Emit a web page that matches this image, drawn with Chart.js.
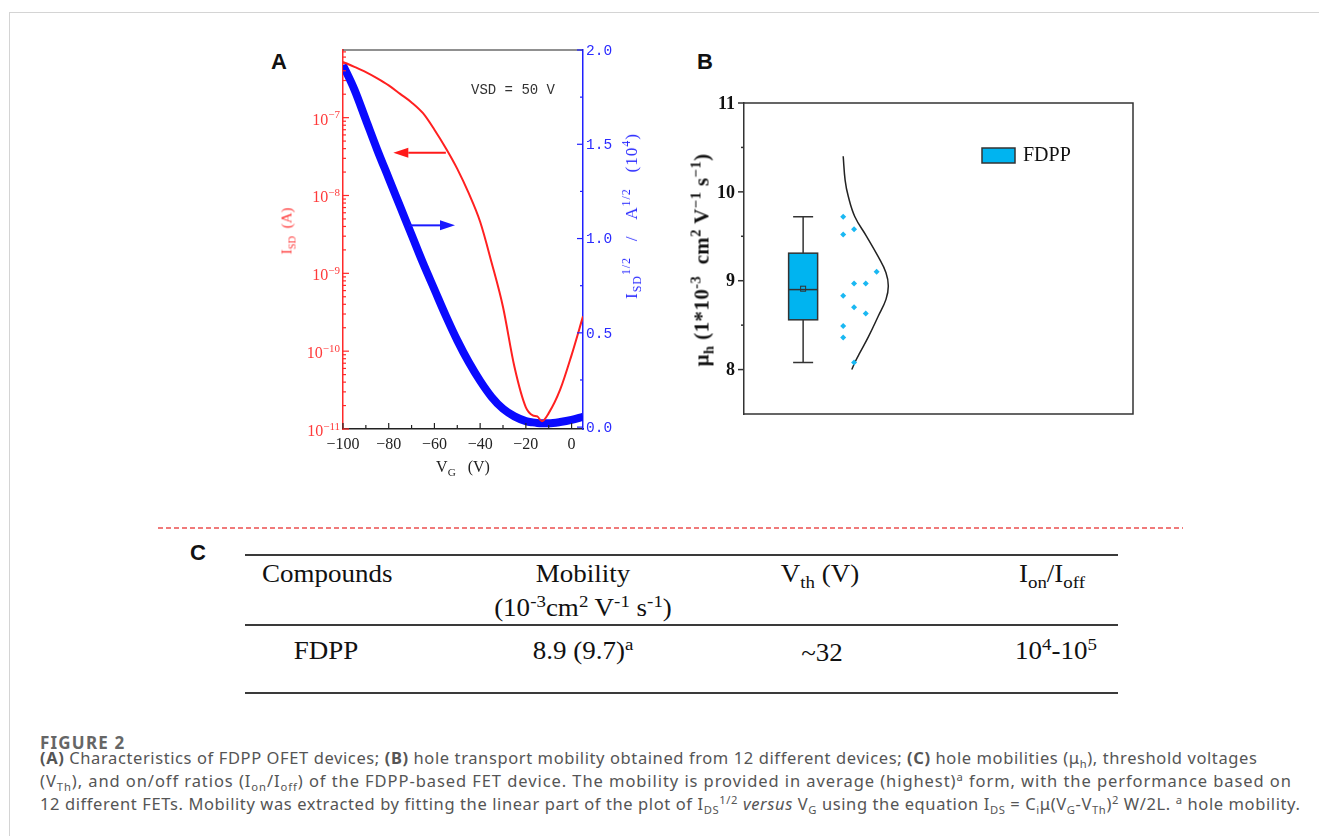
<!DOCTYPE html>
<html lang="en">
<head>
<meta charset="UTF-8">
<title>Figure 2</title>
<script src="https://cdn.jsdelivr.net/npm/chart.js"></script>
<style>
* { margin: 0; padding: 0; box-sizing: border-box; }
body {
    width: 1319px; height: 836px; position: relative; overflow: hidden;
    background: #fff; font-family: 'Liberation Serif', serif; color: #111;
}
.frame {
    position: absolute; left: 9px; top: 12px; width: 1320px; height: 830px;
    border-top: 1px solid #d4d4d4; border-left: 1px solid #d4d4d4;
}
.panel-label {
    position: absolute; font-family: 'Liberation Sans', Arial, sans-serif;
    font-weight: bold; font-size: 22px; line-height: 22px; color: #111;
}
.wrap { position: absolute; }
#wrapA { left: 263px; top: 38px; width: 380px; height: 450px; }
#wrapB { left: 704px; top: 93px; width: 440px; height: 331px; }
.txt { position: absolute; white-space: nowrap; }
.rot { position: absolute; white-space: nowrap; transform: translate(-50%, -50%) rotate(-90deg); }
.ctr { transform: translateX(-50%); }
sub, sup { line-height: 0; font-size: 70%; }

/* table C */
.hline { position: absolute; left: 245px; width: 873px; height: 2px; background: #3a3a3a; }
.cell {
    position: absolute; white-space: nowrap; font-size: 27px; line-height: 27px; color: #111;
    transform: scaleY(0.9);
}
.cell.ctr { transform: translateX(-50%) scaleY(0.9); }
.dash {
    position: absolute; left: 158px; top: 527px; width: 1025px; height: 1.5px;
    background: repeating-linear-gradient(to right, #f07a7a 0 5px, transparent 5px 8px);
}

/* caption */
.cap-title {
    position: absolute; left: 40px; top: 731px; font-family: 'Noto Sans', sans-serif;
    font-size: 17px; font-weight: bold; color: #666; letter-spacing: 1.2px;
}
.caption {
    position: absolute; left: 40px; top: 746px; font-family: 'Noto Sans', sans-serif;
    font-size: 16.5px; line-height: 23px; color: #555; white-space: nowrap; letter-spacing: 0.6px;
}
.caption .l2 { letter-spacing: 0.93px; }
.caption sub, .caption sup { font-size: 68%; }
</style>
</head>
<body>
<div class="frame"></div>

<div class="panel-label" style="left:271px; top:51px;">A</div>
<div class="panel-label" style="left:697px; top:51px;">B</div>
<div class="panel-label" style="left:190px; top:542px;">C</div>

<!-- Panel A -->
<div class="wrap" id="wrapA"><canvas id="chartA"></canvas></div>
<div class="txt" style="left:471px; top:82px; font-family:'Liberation Mono', monospace; font-size:14px; color:#333;">VSD = 50 V</div>
<div class="rot" style="left:287px; top:231px; font-size:15px; color:#ff3a3a;">I<sub>SD</sub>&nbsp;&nbsp;(A)</div>
<div class="rot" style="left:632px; top:216px; font-size:17px; letter-spacing:1px; color:#2a2aff;">I<sub>SD</sub><sup>1/2</sup>&nbsp;&nbsp;&nbsp;/&nbsp;&nbsp;&nbsp;A<sup>1/2</sup>&nbsp;&nbsp;&nbsp;(10<sup>4</sup>)</div>
<div class="txt ctr" style="left:463px; top:458px; font-size:16px; color:#222;">V<sub>G</sub>&nbsp;&nbsp;&nbsp;(V)</div>

<!-- Panel B -->
<div class="wrap" id="wrapB"><canvas id="chartB"></canvas></div>
<div class="rot" style="left:702px; top:260px; font-size:21px; letter-spacing:0.4px; font-weight:bold; color:#111;">μ<sub>h</sub> (1*10<sup>-3</sup>&nbsp; cm<sup>2</sup> V<sup>−1</sup> s<sup>−1</sup>)</div>

<!-- Panel C -->
<div class="dash"></div>
<div class="hline" style="top:554px;"></div>
<div class="hline" style="top:624px;"></div>
<div class="hline" style="top:692px;"></div>
<div class="cell" style="left:262px; top:561px;">Compounds</div>
<div class="cell ctr" style="left:583px; top:561px;">Mobility</div>
<div class="cell ctr" style="left:583px; top:595px;">(10<sup>-3</sup>cm<sup>2</sup> V<sup>-1</sup> s<sup>-1</sup>)</div>
<div class="cell ctr" style="left:820px; top:561px;">V<sub>th</sub> (V)</div>
<div class="cell ctr" style="left:1052px; top:561px;">I<sub>on</sub>/I<sub>off</sub></div>
<div class="cell ctr" style="left:326px; top:638px;">FDPP</div>
<div class="cell ctr" style="left:583px; top:638px;">8.9 (9.7)<sup>a</sup></div>
<div class="cell ctr" style="left:822px; top:640px;">~32</div>
<div class="cell ctr" style="left:1056px; top:638px;">10<sup>4</sup>-10<sup>5</sup></div>

<!-- Caption -->
<div class="cap-title">FIGURE 2</div>
<div class="caption"><b>(A)</b> Characteristics of FDPP OFET devices; <b>(B)</b> hole transport mobility obtained from 12 different devices; <b>(C)</b> hole mobilities (μ<sub>h</sub>), threshold voltages<br><span class="l2">(V<sub>Th</sub>), and on/off ratios (I<sub>on</sub>/I<sub>off</sub>) of the FDPP-based FET device. The mobility is provided in average (highest)<sup>a</sup> form, with the performance based on</span><br>12 different FETs. Mobility was extracted by fitting the linear part of the plot of I<sub>DS</sub><sup>1/2</sup> <i>versus</i> V<sub>G</sub> using the equation I<sub>DS</sub> = C<sub>i</sub>μ(V<sub>G</sub>-V<sub>Th</sub>)<sup>2</sup> W/2L. <sup>a</sup> hole mobility.</div>

<script>
// ---- Panel A data: transfer curve ----
const vg = [-100, -95, -90, -85, -80, -75, -70, -65, -60, -55, -50, -45, -40, -35, -30, -25, -20, -17, -15, -13, -10, -5, 0, 5];
const isd = [5.2e-7, 4.5e-7, 3.85e-7, 3.2e-7, 2.6e-7, 2.02e-7, 1.57e-7, 1.14e-7, 7.0e-8, 4.05e-8, 2.2e-8, 1.07e-8,
    4.6e-9, 1.38e-9, 3.7e-10, 6.3e-11, 1.9e-11, 1.5e-11, 1.45e-11, 1.26e-11, 1.6e-11, 3.2e-11, 8.9e-11, 2.8e-10];
const sqrtIsd = [1.92, 1.79, 1.63, 1.47, 1.32, 1.17, 1.02, 0.87, 0.73, 0.59, 0.46, 0.345,
    0.245, 0.16, 0.097, 0.057, 0.032, 0.025, 0.022, 0.021, 0.021, 0.027, 0.038, 0.055];
const xTicks = [-100, -80, -60, -40, -20, 0];
const xMinor = [-90, -70, -50, -30, -10];
const logTicks = [1e-11, 1e-10, 1e-9, 1e-8, 1e-7];
const rightTicks = [0, 0.5, 1.0, 1.5, 2.0];
const rightMinor = [0.25, 0.75, 1.25, 1.75];
const redArrowX = [-55, -78], redArrowY = 3.55e-8;
const blueArrowX = [-71, -51], blueArrowY = 1.07;

// ---- Panel B data: mobility of 12 devices ----
const mobility = [9.72, 9.52, 9.58, 9.10, 8.97, 8.97, 8.83, 8.70, 8.63, 8.49, 8.36, 8.08];
const jitterX = [2.55, 2.55, 2.83, 3.41, 2.83, 3.13, 2.55, 2.83, 3.13, 2.55, 2.55, 2.83];
const boxX = 1.52;
const boxStats = [8.08, 8.56, 8.90, 9.31, 9.72]; // min, q1, median, q3, max
const boxMean = 8.91;
const curveX = [2.55, 2.60, 2.68, 2.85, 3.15, 3.45, 3.65, 3.71, 3.65, 3.45, 3.20, 2.98, 2.85, 2.77];
const curveY = [10.40, 10.13, 9.95, 9.72, 9.50, 9.27, 9.09, 8.94, 8.79, 8.60, 8.37, 8.19, 8.08, 8.00];
const bTicks = [8, 9, 10, 11];
const bMinor = [8.5, 9.5, 10.5];

Chart.defaults.font.family = "'Liberation Serif', serif";
Chart.defaults.animation = false;

const setTicks = arr => s => { s.ticks = arr.map(v => ({ value: v })); };

function arrow(ctx, x0, x1, y, color) {
    const dir = Math.sign(x1 - x0), head = 15;
    ctx.save();
    ctx.strokeStyle = color; ctx.fillStyle = color; ctx.lineWidth = 2;
    ctx.beginPath(); ctx.moveTo(x0, y); ctx.lineTo(x1 - dir * head, y); ctx.stroke();
    ctx.beginPath();
    ctx.moveTo(x1, y); ctx.lineTo(x1 - dir * head, y - 5); ctx.lineTo(x1 - dir * head, y + 5);
    ctx.closePath(); ctx.fill();
    ctx.restore();
}

// inward ticks, y labels, top frame line and arrows of panel A
const decorA = {
    id: 'decorA',
    afterDraw(chart) {
        const { ctx, chartArea: a, scales } = chart;
        const x = scales.x, y = scales.y, y1 = scales.y1;
        ctx.save();
        ctx.lineWidth = 1.2;
        ctx.strokeStyle = '#222';
        ctx.beginPath(); ctx.moveTo(a.left, a.top); ctx.lineTo(a.right, a.top); ctx.stroke();
        xTicks.concat(xMinor).forEach((v, i) => {
            const px = x.getPixelForValue(v), len = i < xTicks.length ? 6 : 4;
            ctx.beginPath(); ctx.moveTo(px, a.bottom); ctx.lineTo(px, a.bottom - len); ctx.stroke();
        });
        ctx.strokeStyle = '#ff2a2a';
        ctx.fillStyle = '#ff3a3a';
        logTicks.forEach(d => {
            for (let m = 1; m < 10; m++) {
                const v = d * m;
                if (v > y.max) break;
                const py = y.getPixelForValue(v), len = m === 1 ? 6 : 3;
                ctx.beginPath(); ctx.moveTo(a.left, py); ctx.lineTo(a.left + len, py); ctx.stroke();
            }
            // "10" with a raised exponent
            const py = y.getPixelForValue(d);
            const exp = '−' + Math.abs(Math.round(Math.log10(d)));
            ctx.font = "11px 'Liberation Serif'";
            const ew = ctx.measureText(exp).width;
            ctx.font = "16px 'Liberation Serif'";
            const bw = ctx.measureText('10').width;
            const right = a.left - 3;
            ctx.textAlign = 'left'; ctx.textBaseline = 'alphabetic';
            ctx.fillText('10', right - ew - bw, py + 7);
            ctx.font = "11px 'Liberation Serif'";
            ctx.fillText(exp, right - ew, py + 0.5);
        });
        ctx.strokeStyle = '#2020ff';
        ctx.fillStyle = '#2a2aff';
        ctx.font = "14.5px 'Liberation Mono'";
        ctx.textAlign = 'left'; ctx.textBaseline = 'middle';
        rightTicks.concat(rightMinor).forEach((v, i) => {
            const py = y1.getPixelForValue(v), major = i < rightTicks.length;
            ctx.beginPath(); ctx.moveTo(a.right, py); ctx.lineTo(a.right - (major ? 6 : 3), py); ctx.stroke();
            if (major) ctx.fillText(v.toFixed(1), a.right + 3, py + 1);
        });
        ctx.restore();
        arrow(ctx, x.getPixelForValue(redArrowX[0]), x.getPixelForValue(redArrowX[1]), y.getPixelForValue(redArrowY), '#ff1a1a');
        arrow(ctx, x.getPixelForValue(blueArrowX[0]), x.getPixelForValue(blueArrowX[1]), y1.getPixelForValue(blueArrowY), '#1a1aff');
    }
};

new Chart(document.getElementById('chartA'), {
    type: 'line',
    data: {
        datasets: [{
            label: 'ISD',
            data: vg.map((v, i) => ({ x: v, y: isd[i] })),
            yAxisID: 'y',
            borderColor: '#ff2020',
            borderWidth: 2,
            pointRadius: 0,
            cubicInterpolationMode: 'monotone'
        }, {
            label: 'sqrt ISD',
            data: vg.map((v, i) => ({ x: v, y: sqrtIsd[i] })),
            yAxisID: 'y1',
            borderColor: '#0a0aff',
            borderWidth: 8,
            pointRadius: 0,
            cubicInterpolationMode: 'monotone'
        }]
    },
    options: {
        responsive: true,
        maintainAspectRatio: false,
        layout: { padding: { top: 12 } },
        plugins: { legend: { display: false }, tooltip: { enabled: false } },
        scales: {
            x: {
                type: 'linear', min: -100, max: 5,
                afterBuildTicks: setTicks(xTicks),
                afterFit: s => { s.height = 59; },
                grid: { display: false, drawTicks: false },
                border: { color: '#222', width: 1.5 },
                ticks: {
                    padding: 6, color: '#222', font: { size: 16 },
                    callback: v => v < 0 ? '−' + Math.abs(v) : String(v)
                }
            },
            y: {
                type: 'logarithmic', position: 'left', min: 1e-11, max: 7.4e-7,
                afterBuildTicks: setTicks(logTicks),
                afterFit: s => { s.width = 80; },
                grid: { display: false, drawTicks: false },
                border: { color: '#ff2a2a', width: 1.5 },
                ticks: { display: false }
            },
            y1: {
                type: 'linear', position: 'right', min: -0.01, max: 2.0,
                afterBuildTicks: setTicks(rightTicks),
                afterFit: s => { s.width = 60; },
                grid: { display: false, drawTicks: false },
                border: { color: '#2020ff', width: 1.5 },
                ticks: { display: false }
            }
        }
    },
    plugins: [decorA]
});

// box, ticks, labels, frame and legend of panel B
const decorB = {
    id: 'decorB',
    beforeDatasetsDraw(chart) {
        const { ctx, scales: { x, y } } = chart;
        const cx = x.getPixelForValue(boxX), half = 14.5, cap = 10;
        const [mn, q1, med, q3, mx] = boxStats.map(v => y.getPixelForValue(v));
        ctx.save();
        ctx.strokeStyle = '#333'; ctx.lineWidth = 1.5;
        ctx.beginPath();
        ctx.moveTo(cx, q3); ctx.lineTo(cx, mx); ctx.moveTo(cx - cap, mx); ctx.lineTo(cx + cap, mx);
        ctx.moveTo(cx, q1); ctx.lineTo(cx, mn); ctx.moveTo(cx - cap, mn); ctx.lineTo(cx + cap, mn);
        ctx.stroke();
        ctx.fillStyle = '#00b4f0';
        ctx.fillRect(cx - half, q3, half * 2, q1 - q3);
        ctx.strokeRect(cx - half, q3, half * 2, q1 - q3);
        ctx.beginPath(); ctx.moveTo(cx - half, med); ctx.lineTo(cx + half, med); ctx.stroke();
        const pm = y.getPixelForValue(boxMean);
        ctx.lineWidth = 1;
        ctx.strokeRect(cx - 2.5, pm - 2.5, 5, 5);
        ctx.restore();
    },
    afterDraw(chart) {
        const { ctx, chartArea: a, scales: { y } } = chart;
        ctx.save();
        ctx.strokeStyle = '#333'; ctx.lineWidth = 1.5;
        ctx.beginPath();
        ctx.moveTo(a.left, a.top); ctx.lineTo(a.right, a.top); ctx.lineTo(a.right, a.bottom); ctx.lineTo(a.left, a.bottom);
        ctx.stroke();
        ctx.fillStyle = '#111';
        ctx.font = "bold 18px 'Liberation Serif'";
        ctx.textAlign = 'right'; ctx.textBaseline = 'middle';
        bTicks.concat(bMinor).forEach((v, i) => {
            const py = y.getPixelForValue(v), major = i < bTicks.length;
            ctx.beginPath(); ctx.moveTo(a.left, py); ctx.lineTo(a.left - (major ? 6 : 3), py); ctx.stroke();
            if (major) ctx.fillText(String(v), a.left - 9, py + 1);
        });
        // legend
        const lx = a.left + 238, ly = a.top + 45;
        ctx.fillStyle = '#00b4f0';
        ctx.fillRect(lx, ly, 33, 15);
        ctx.strokeRect(lx, ly, 33, 15);
        ctx.fillStyle = '#111';
        ctx.font = "20px 'Liberation Serif'";
        ctx.textAlign = 'left';
        ctx.fillText('FDPP', lx + 41, ly + 8);
        ctx.restore();
    }
};

new Chart(document.getElementById('chartB'), {
    type: 'scatter',
    data: {
        datasets: [{
            label: 'devices',
            data: mobility.map((v, i) => ({ x: jitterX[i], y: v })),
            pointStyle: 'rectRot',
            pointRadius: 3,
            pointBorderWidth: 0,
            backgroundColor: '#1ab8f2'
        }, {
            label: 'distribution',
            data: curveY.map((v, i) => ({ x: curveX[i], y: v })),
            showLine: true,
            borderColor: '#222',
            borderWidth: 1.5,
            pointRadius: 0,
            tension: 0.4
        }]
    },
    options: {
        responsive: true,
        maintainAspectRatio: false,
        layout: { padding: { top: 10, right: 11, bottom: 10 } },
        plugins: { legend: { display: false }, tooltip: { enabled: false } },
        scales: {
            x: { type: 'linear', min: 0, max: 10, display: false },
            y: {
                min: 7.5, max: 11,
                afterBuildTicks: setTicks(bTicks),
                afterFit: s => { s.width = 40; },
                grid: { display: false, drawTicks: false },
                border: { color: '#333', width: 1.5 },
                ticks: { display: false }
            }
        }
    },
    plugins: [decorB]
});
</script>
</body>
</html>
